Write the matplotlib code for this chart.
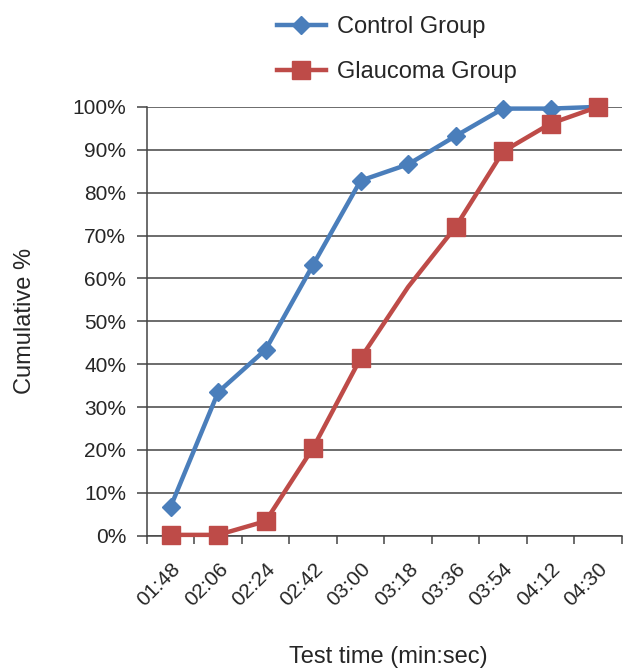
import matplotlib
matplotlib.use("Agg")
import matplotlib.pyplot as plt
from matplotlib.ticker import PercentFormatter

plt.rcParams['font.family'] = ['Liberation Sans', 'DejaVu Sans']

# test time categories (min:sec)
times = ['01:48', '02:06', '02:24', '02:42', '03:00', '03:18',
         '03:36', '03:54', '04:12', '04:30']
# cumulative percentages
control = [6.8, 33.5, 43.4, 63.2, 82.8, 86.6, 93.2, 99.6, 99.6, 100.0]
glaucoma = [0.2, 0.2, 3.4, 20.5, 41.4, 58.0, 72.0, 89.6, 96.1, 100.0]
glaucoma_marked = [0, 1, 2, 3, 4, 6, 7, 8, 9]   # no marker drawn at 03:18

BLUE = '#4A7EBB'
RED = '#BE4B48'
GRID = '#444444'
TEXT = '#262626'

fig = plt.figure(figsize=(6.39, 6.68), dpi=100)
ax = fig.add_axes([0.230, 0.198, 0.743, 0.642])

x = list(range(len(times)))
ax.plot(x, control, color=BLUE, lw=3.2, marker='D', markersize=9.5,
        label='Control Group', clip_on=False, zorder=3)
ax.plot(x, glaucoma, color=RED, lw=3.2, marker='s', markersize=13,
        markevery=glaucoma_marked, label='Glaucoma Group', clip_on=False, zorder=3)

ax.set_xlim(-0.5, len(times) - 0.5)
ax.set_ylim(0, 100)
ax.set_yticks(range(0, 101, 10))
ax.yaxis.set_major_formatter(PercentFormatter(decimals=0))
ax.grid(axis='y', color=GRID, lw=1.1)
ax.set_axisbelow(True)

ax.set_xticks(x)
ax.set_xticklabels(times, rotation=45, ha='right', rotation_mode='anchor')
ax.set_xticks([i - 0.5 for i in range(len(times) + 1)], minor=True)
ax.tick_params(axis='x', which='major', length=0, pad=17, labelsize=15, colors=TEXT)
ax.tick_params(axis='x', which='minor', length=6, width=1.1, color=GRID)
ax.tick_params(axis='y', length=7, width=1.1, color=GRID, labelsize=15,
               labelcolor=TEXT, pad=8)

for side in ['top', 'right']:
    ax.spines[side].set_visible(False)
for side in ['left', 'bottom']:
    ax.spines[side].set_color(GRID)
    ax.spines[side].set_linewidth(1.1)

fig.text(0.039, 0.519, 'Cumulative %', fontsize=17, color=TEXT,
         rotation=90, ha='center', va='center')
fig.text(0.607, 0.017, 'Test time (min:sec)', fontsize=17, color=TEXT,
         ha='center', va='center')

ax.legend(loc='lower left', bbox_to_anchor=(0.263, 1.045), frameon=False,
          fontsize=17, handlelength=2.1, labelspacing=0.95, handletextpad=0.45,
          labelcolor=TEXT, borderpad=0.2, borderaxespad=0)

plt.savefig('out.png', dpi=100, facecolor='white')
